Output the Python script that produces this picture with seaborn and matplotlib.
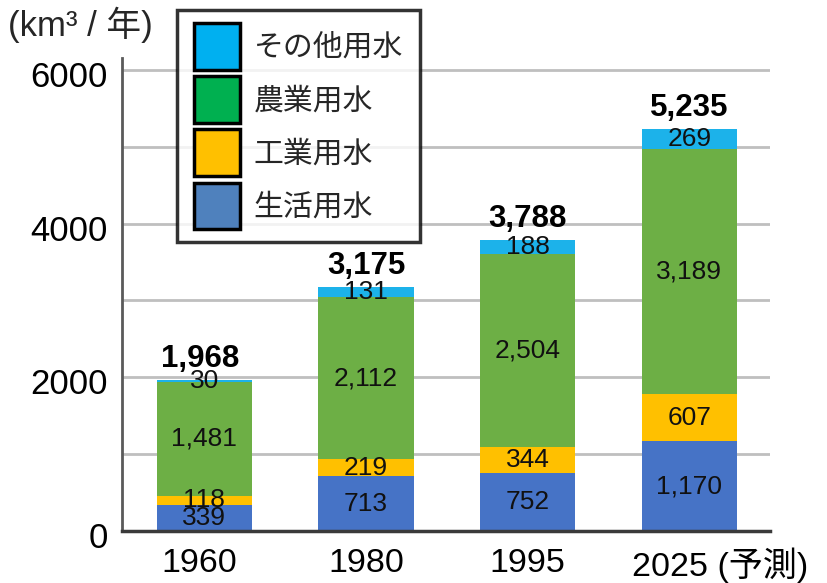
import numpy as np
import matplotlib
matplotlib.use("Agg")
import matplotlib.pyplot as plt
from matplotlib.patches import Patch, Rectangle
from matplotlib.legend_handler import HandlerPatch
from matplotlib.transforms import ScaledTranslation
import seaborn as sns

# 世界の水使用量（km3/年）
years = ["1960", "1980", "1995", "2025"]
year_labels = ["1960", "1980", "1995", "2025 (予測)"]
domestic = [339, 713, 752, 1170]         # 生活用水
industrial = [118, 219, 344, 607]        # 工業用水
agricultural = [1481, 2112, 2504, 3189]  # 農業用水
other = [30, 131, 188, 269]              # その他用水
totals = [1968, 3175, 3788, 5235]

series_names = ["生活用水", "工業用水", "農業用水", "その他用水"]
bar_colors = ["#4673C6", "#FFC000", "#6DAF45", "#1CB2EA"]
legend_colors = ["#4F81BD", "#FFC000", "#00B050", "#00B0F0"]

sns.set_theme(style="white")
plt.rcParams["font.family"] = ["Liberation Sans", "Noto Sans CJK JP", "DejaVu Sans"]

fig = plt.figure(figsize=(8.28, 5.83), dpi=100)
ax = fig.add_axes([0.1473, 0.0892, 0.7827, 0.8105])

layers = [domestic, industrial, agricultural, other]
cum = np.cumsum(np.array(layers), axis=0)

# stacked bars: draw the tallest cumulative layer first, smaller ones on top
bar_w = 0.59
for i in range(len(layers) - 1, -1, -1):
    sns.barplot(x=years, y=cum[i], color=bar_colors[i], saturation=1,
                width=bar_w, errorbar=None, ax=ax, zorder=2, linewidth=0)

ax.set_xlim(-0.51, 3.5)
ax.set_ylim(0, 6150)

# segment values
for i, layer in enumerate(layers):
    bottoms = cum[i] - np.array(layer)
    for j, v in enumerate(layer):
        ax.text(j, bottoms[j] + v / 2, f"{v:,}", ha="center", va="center",
                fontsize=19, color="#111111", zorder=4)

# totals above bars
for j, t in enumerate(totals):
    ax.annotate(f"{t:,}", (j, t), xytext=(-3 if j == 0 else 0, 15),
                textcoords="offset points", ha="center", va="center",
                fontsize=22.5, fontweight="bold", color="black", zorder=4)

# axes styling
ax.set_yticks([0, 2000, 4000, 6000])
ax.set_yticks([1000, 3000, 5000], minor=True)
ax.grid(True, axis="y", which="both", color="#BFBFBF", linewidth=2, zorder=0)
ax.set_axisbelow(True)
ax.tick_params(axis="both", which="both", length=0)
ax.tick_params(axis="y", labelsize=25, pad=10, labelcolor="black")
ax.tick_params(axis="x", labelsize=24.5, pad=12, labelcolor="black")
ax.set_xlabel("")
ax.set_ylabel("")
for lbl in ax.get_yticklabels():
    lbl.set_transform(lbl.get_transform() + ScaledTranslation(0, -4 / 100, fig.dpi_scale_trans))

ax.set_xticks(range(len(years)))
ax.set_xticklabels(year_labels)
last = ax.get_xticklabels()[-1]
last.set_horizontalalignment("left")
last.set_transform(last.get_transform() + ScaledTranslation(-57 / 100, 0, fig.dpi_scale_trans))
first = ax.get_xticklabels()[0]
first.set_transform(first.get_transform() + ScaledTranslation(-5 / 100, 0, fig.dpi_scale_trans))

for s in ["top", "right"]:
    ax.spines[s].set_visible(False)
ax.spines["left"].set_color("#5a5a5a")
ax.spines["left"].set_linewidth(2)
ax.spines["bottom"].set_color("#3a3a3a")
ax.spines["bottom"].set_linewidth(2.5)
ax.spines["left"].set_zorder(3)
ax.spines["bottom"].set_zorder(3)

# unit label
fig.text(0.010, 0.957, "(km³ / 年)", fontsize=25, ha="left", va="center")


# square legend keys, a bit larger than the row box
def square_key(legend, orig_handle, xdescent, ydescent, width, height, fontsize):
    s = 33.5
    cx = -xdescent + width / 2
    cy = -ydescent + height / 2
    return Rectangle((cx - s / 2, cy - s / 2), s, s)


handles = [Patch(facecolor=legend_colors[i], edgecolor="black", linewidth=2.5,
                 label=series_names[i]) for i in range(3, -1, -1)]
leg = fig.legend(handles=handles, loc="upper left",
                 bbox_to_anchor=(177 / 828, 1 - 10 / 583),
                 frameon=True, fancybox=False, fontsize=21.5,
                 handlelength=1.57, handleheight=1.67, handletextpad=0.45,
                 labelspacing=0.45, borderpad=0.55, borderaxespad=0,
                 handler_map={Patch: HandlerPatch(patch_func=square_key)})
leg.get_frame().set_edgecolor("black")
leg.get_frame().set_linewidth(2.5)
leg.set_zorder(5)

fig.savefig("out.png", dpi=100)
